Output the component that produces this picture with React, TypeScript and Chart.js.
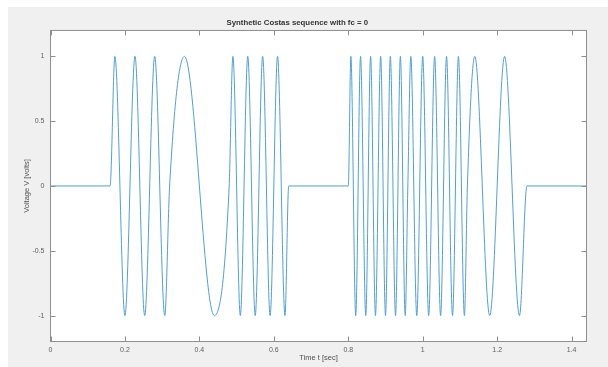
import React, { useEffect, useRef } from "react";
import { Chart, registerables } from "chart.js";

Chart.register(...registerables);

const TITLE = "Synthetic Costas sequence with fc = 0";
const X_LABEL = "Time t [sec]";
const Y_LABEL = "Voltage V [volts]";

const X_TICKS = [0, 0.2, 0.4, 0.6, 0.8, 1, 1.2, 1.4];
const X_TICK_LABELS = ["0", "0.2", "0.4", "0.6", "0.8", "1", "1.2", "1.4"];
const Y_TICKS = [-1, -0.5, 0, 0.5, 1];
const Y_TICK_LABELS = ["-1", "-0.5", "0", "0.5", "1"];

// Key points of the waveform (chip edges, peaks and troughs)
const TIME = [
  0, 0.16,
  0.173, 0.2, 0.227, 0.253, 0.28, 0.307,
  0.32,
  0.36, 0.44,
  0.48,
  0.49, 0.51, 0.53, 0.55, 0.57, 0.59, 0.61, 0.63,
  0.64, 0.8,
  0.807, 0.82, 0.833, 0.847, 0.86, 0.873, 0.887, 0.9, 0.913, 0.927, 0.94, 0.953,
  0.96,
  0.968, 0.984, 1.0, 1.016, 1.032, 1.048, 1.064, 1.08, 1.096, 1.112,
  1.12,
  1.14, 1.18, 1.22, 1.26,
  1.28, 1.44,
];
const VOLTAGE = [
  0, 0,
  1, -1, 1, -1, 1, -1,
  0,
  1, -1,
  0,
  1, -1, 1, -1, 1, -1, 1, -1,
  0, 0,
  1, -1, 1, -1, 1, -1, 1, -1, 1, -1, 1, -1,
  0,
  1, -1, 1, -1, 1, -1, 1, -1, 1, -1,
  0,
  1, -1, 1, -1,
  0, 0,
];

const FONT = "'Liberation Sans', Arial, Helvetica, sans-serif";

const framePlugin = {
  id: "matlabFrame",
  beforeDraw(chart: any) {
    const { ctx, chartArea: a } = chart;
    ctx.save();
    ctx.fillStyle = "#ffffff";
    ctx.fillRect(a.left, a.top, a.right - a.left, a.bottom - a.top);
    ctx.restore();
  },
  afterDraw(chart: any) {
    const { ctx, chartArea: a, scales } = chart;
    const L = 5;
    ctx.save();
    ctx.strokeStyle = "#8f8f8f";
    ctx.lineWidth = 1;
    ctx.strokeRect(a.left, a.top, a.right - a.left, a.bottom - a.top);
    ctx.beginPath();
    X_TICKS.forEach((v) => {
      const x = Math.round(scales.x.getPixelForValue(v)) + 0.5;
      ctx.moveTo(x, a.bottom);
      ctx.lineTo(x, a.bottom - L);
      ctx.moveTo(x, a.top);
      ctx.lineTo(x, a.top + L);
    });
    Y_TICKS.forEach((v) => {
      const y = Math.round(scales.y.getPixelForValue(v)) + 0.5;
      ctx.moveTo(a.left, y);
      ctx.lineTo(a.left + L, y);
      ctx.moveTo(a.right, y);
      ctx.lineTo(a.right - L, y);
    });
    ctx.stroke();
    ctx.restore();
  },
};

export default function App() {
  const ref = useRef<HTMLCanvasElement | null>(null);

  useEffect(() => {
    if (!ref.current) return;
    const points = TIME.map((t, i) => ({ x: t, y: VOLTAGE[i] }));
    const chart = new Chart(ref.current, {
      type: "line",
      data: {
        datasets: [
          {
            data: points,
            borderColor: "#4f9fd6",
            borderWidth: 1,
            pointRadius: 0,
            cubicInterpolationMode: "monotone",
            fill: false,
          },
        ],
      },
      plugins: [framePlugin],
      options: {
        animation: false,
        responsive: false,
        devicePixelRatio: 1,
        layout: { padding: { top: 0, right: 21.5, bottom: 0, left: 0 } },
        plugins: {
          legend: { display: false },
          tooltip: { enabled: false },
          title: {
            display: true,
            text: TITLE,
            color: "#333333",
            font: { family: FONT, size: 7.8, weight: "bold", lineHeight: 1.2 },
            padding: { top: 11.5, bottom: 2.6 },
          },
        },
        scales: {
          x: {
            type: "linear",
            min: 0,
            max: 1.44,
            grid: { display: false, drawTicks: false },
            border: { display: false },
            afterBuildTicks: (scale: any) => {
              scale.ticks = X_TICKS.map((v) => ({ value: v }));
            },
            afterFit: (scale: any) => {
              scale.height = 25.5;
            },
            ticks: {
              autoSkip: false,
              maxRotation: 0,
              padding: 4,
              color: "#606060",
              font: { family: FONT, size: 7 },
              callback: (v: any) => {
                const i = X_TICKS.indexOf(Number(v));
                return i >= 0 ? X_TICK_LABELS[i] : "";
              },
            },
            title: {
              display: true,
              text: X_LABEL,
              color: "#505050",
              font: { family: FONT, size: 7.5 },
              padding: { top: 0, bottom: 4.5 },
            },
          },
          y: {
            type: "linear",
            min: -1.2,
            max: 1.2,
            grid: { display: false, drawTicks: false },
            border: { display: false },
            afterBuildTicks: (scale: any) => {
              scale.ticks = Y_TICKS.map((v) => ({ value: v }));
            },
            afterFit: (scale: any) => {
              scale.width = 42.5;
            },
            ticks: {
              autoSkip: false,
              padding: 6,
              color: "#606060",
              font: { family: FONT, size: 7 },
              callback: (v: any) => {
                const i = Y_TICKS.indexOf(Number(v));
                return i >= 0 ? Y_TICK_LABELS[i] : "";
              },
            },
            title: {
              display: true,
              text: Y_LABEL,
              color: "#505050",
              font: { family: FONT, size: 7.5 },
              padding: { top: 14.5, bottom: 0 },
            },
          },
        },
      } as any,
    });
    return () => chart.destroy();
  }, []);

  return (
    <div
      style={{
        position: "fixed",
        left: 8,
        top: 7,
        width: 600,
        height: 360,
        background: "#f0f0f0",
      }}
    >
      <canvas ref={ref} width={600} height={360} style={{ display: "block" }} />
    </div>
  );
}
